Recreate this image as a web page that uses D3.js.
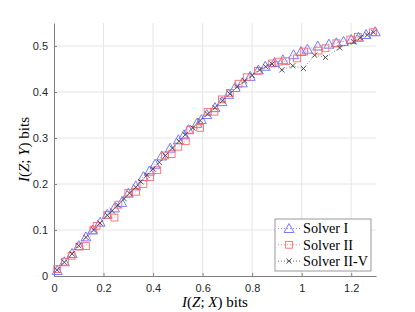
<!DOCTYPE html>
<html>
<head>
<meta charset="utf-8">
<script src="https://cdn.jsdelivr.net/npm/d3@7"></script>
<style>
  body { margin: 0; background: #fff; }
  svg { display: block; }
  .tick text { font-family: "Liberation Sans", Arial, sans-serif; font-size: 11px; fill: #262626; }
</style>
</head>
<body>
<svg width="415" height="312"></svg>
<script>
// Solver I (blue triangles)
const solver1X = [0.013,0.042,0.073,0.100,0.129,0.156,0.186,0.215,0.244,0.273,0.300,0.330,0.361,0.385,0.408,0.435,0.469,0.502,0.525,0.543,0.577,0.595,0.617,0.650,0.678,0.705,0.731,0.760,0.792,0.825,0.853,0.890,0.924,0.967,0.997,1.023,1.065,1.110,1.140,1.169,1.200,1.229,1.260,1.297];
const solver1Y = [0.012,0.031,0.049,0.066,0.085,0.100,0.117,0.134,0.148,0.160,0.180,0.196,0.216,0.228,0.243,0.261,0.278,0.296,0.307,0.318,0.332,0.340,0.351,0.366,0.379,0.395,0.410,0.420,0.434,0.448,0.456,0.464,0.470,0.481,0.488,0.493,0.500,0.504,0.507,0.510,0.514,0.519,0.525,0.531];

// Solver II (red squares)
const solver2X = [0.013,0.044,0.071,0.102,0.129,0.159,0.172,0.215,0.244,0.260,0.300,0.331,0.361,0.388,0.417,0.448,0.475,0.502,0.532,0.550,0.590,0.620,0.648,0.678,0.710,0.745,0.778,0.823,0.879,0.906,0.937,0.981,1.010,1.068,1.096,1.140,1.196,1.227,1.288];
const solver2Y = [0.015,0.031,0.044,0.064,0.065,0.100,0.109,0.133,0.127,0.155,0.181,0.183,0.200,0.215,0.230,0.262,0.265,0.281,0.293,0.318,0.322,0.357,0.357,0.384,0.398,0.418,0.432,0.446,0.462,0.466,0.467,0.473,0.488,0.490,0.495,0.506,0.514,0.520,0.530];

// Solver II-V (black crosses)
const solver3X = [0.013,0.042,0.073,0.100,0.129,0.160,0.186,0.215,0.235,0.258,0.283,0.305,0.330,0.350,0.375,0.400,0.425,0.450,0.478,0.505,0.530,0.560,0.590,0.620,0.650,0.680,0.710,0.740,0.770,0.800,0.830,0.855,0.880,0.920,0.964,1.007,1.052,1.096,1.153,1.210,1.236,1.265,1.290];
const solver3Y = [0.013,0.030,0.048,0.066,0.084,0.100,0.115,0.132,0.142,0.154,0.168,0.180,0.193,0.205,0.219,0.233,0.247,0.262,0.278,0.293,0.307,0.322,0.338,0.352,0.366,0.381,0.396,0.411,0.424,0.436,0.448,0.455,0.461,0.448,0.457,0.451,0.480,0.475,0.496,0.509,0.518,0.524,0.530];

const xTicks = [0, 0.2, 0.4, 0.6, 0.8, 1, 1.2];
const yTicks = [0, 0.1, 0.2, 0.3, 0.4, 0.5];
const legendNames = ["Solver I", "Solver II", "Solver II-V"];

const svg = d3.select("svg");
const margin = {left: 54, top: 23, right: 39, bottom: 36};
const width = 415 - margin.left - margin.right;
const height = 312 - margin.top - margin.bottom;

const x = d3.scaleLinear().domain([0, 1.3]).range([0, width]);
const y = d3.scaleLinear().domain([0, 0.55]).range([height, 0]);

const g = svg.append("g").attr("transform", "translate(" + margin.left + "," + margin.top + ")");

// grid
g.append("g").selectAll("line").data(xTicks.slice(1)).enter().append("line")
  .attr("x1", d => x(d)).attr("x2", d => x(d)).attr("y1", 0).attr("y2", height)
  .attr("stroke", "#e6e6e6").attr("stroke-width", 1);
g.append("g").selectAll("line").data(yTicks.slice(1)).enter().append("line")
  .attr("x1", 0).attr("x2", width).attr("y1", d => y(d)).attr("y2", d => y(d))
  .attr("stroke", "#e6e6e6").attr("stroke-width", 1);

// axes
const xAxis = g.append("g").attr("transform", "translate(0," + height + ")")
  .call(d3.axisBottom(x).tickValues(xTicks).tickSizeInner(-3).tickSizeOuter(0).tickPadding(8).tickFormat(d3.format("~g")));
const yAxis = g.append("g")
  .call(d3.axisLeft(y).tickValues(yTicks).tickSizeInner(-3).tickSizeOuter(0).tickPadding(6).tickFormat(d3.format("~g")));
[xAxis, yAxis].forEach(a => {
  a.select(".domain").attr("stroke", "#808080");
  a.selectAll(".tick line").attr("stroke", "#808080");
});

const series = [
  {xs: solver1X, ys: solver1Y, color: "#6b6bff", marker: "tri"},
  {xs: solver2X, ys: solver2Y, color: "#ff6b6b", marker: "sq"},
  {xs: solver3X, ys: solver3Y, color: "#404040", marker: "x"}
];

function drawMarker(sel, type, color) {
  if (type === "tri") {
    sel.append("path").attr("d", "M0,-5L5,4L-5,4Z")
      .attr("fill", "none").attr("stroke", color).attr("stroke-width", 0.9);
  } else if (type === "sq") {
    sel.append("rect").attr("x", -3.4).attr("y", -3.4).attr("width", 6.8).attr("height", 6.8)
      .attr("fill", "none").attr("stroke", color).attr("stroke-width", 0.9);
  } else {
    sel.append("path").attr("d", "M-2.6,-2.6L2.6,2.6M-2.6,2.6L2.6,-2.6")
      .attr("fill", "none").attr("stroke", color).attr("stroke-width", 0.9);
  }
}

const line = d3.line().x(d => x(d[0])).y(d => y(d[1]));

series.forEach(s => {
  const pts = s.xs.map((v, i) => [v, s.ys[i]]);
  g.append("path").datum(pts).attr("d", line)
    .attr("fill", "none").attr("stroke", s.color).attr("stroke-width", 0.8)
    .attr("stroke-dasharray", "1,2").attr("opacity", 0.8);
  g.append("g").selectAll("g").data(pts).enter().append("g")
    .attr("transform", d => "translate(" + x(d[0]) + "," + y(d[1]) + ")")
    .each(function() { drawMarker(d3.select(this), s.marker, s.color); });
});

// legend
const lg = svg.append("g").attr("transform", "translate(275,219)");
lg.append("rect").attr("width", 96).attr("height", 52)
  .attr("fill", "#fff").attr("stroke", "#808080").attr("stroke-width", 0.8);
legendNames.forEach((name, i) => {
  const row = lg.append("g").attr("transform", "translate(0," + (9.5 + i * 16.3) + ")");
  row.append("line").attr("x1", 3).attr("x2", 25).attr("y1", 0).attr("y2", 0)
    .attr("stroke", series[i].color).attr("stroke-width", 0.8).attr("stroke-dasharray", "1,2");
  const m = row.append("g").attr("transform", "translate(14,0)");
  drawMarker(m, series[i].marker, series[i].color);
  row.append("text").attr("x", 28).attr("y", 4.8)
    .attr("font-family", "Liberation Serif, serif").attr("font-size", 14.2).attr("fill", "#000")
    .text(name);
});

// axis labels
function mathLabel(t) {
  t.append("tspan").attr("font-style", "italic").text("I");
  t.append("tspan").text("(");
  t.append("tspan").attr("font-style", "italic").text("Z");
  t.append("tspan").text("; ");
  t.append("tspan").attr("font-style", "italic").text(t.attr("data-v"));
  t.append("tspan").text(") bits");
}
const xl = svg.append("text").attr("data-v", "X")
  .attr("x", margin.left + width / 2).attr("y", 307)
  .attr("text-anchor", "middle").attr("font-family", "Liberation Serif, serif")
  .attr("font-size", 15).attr("fill", "#000");
mathLabel(xl);
const yl = svg.append("text").attr("data-v", "Y")
  .attr("transform", "translate(29," + (margin.top + height / 2) + ") rotate(-90)")
  .attr("text-anchor", "middle").attr("font-family", "Liberation Serif, serif")
  .attr("font-size", 15).attr("fill", "#000");
mathLabel(yl);
</script>
</body>
</html>
